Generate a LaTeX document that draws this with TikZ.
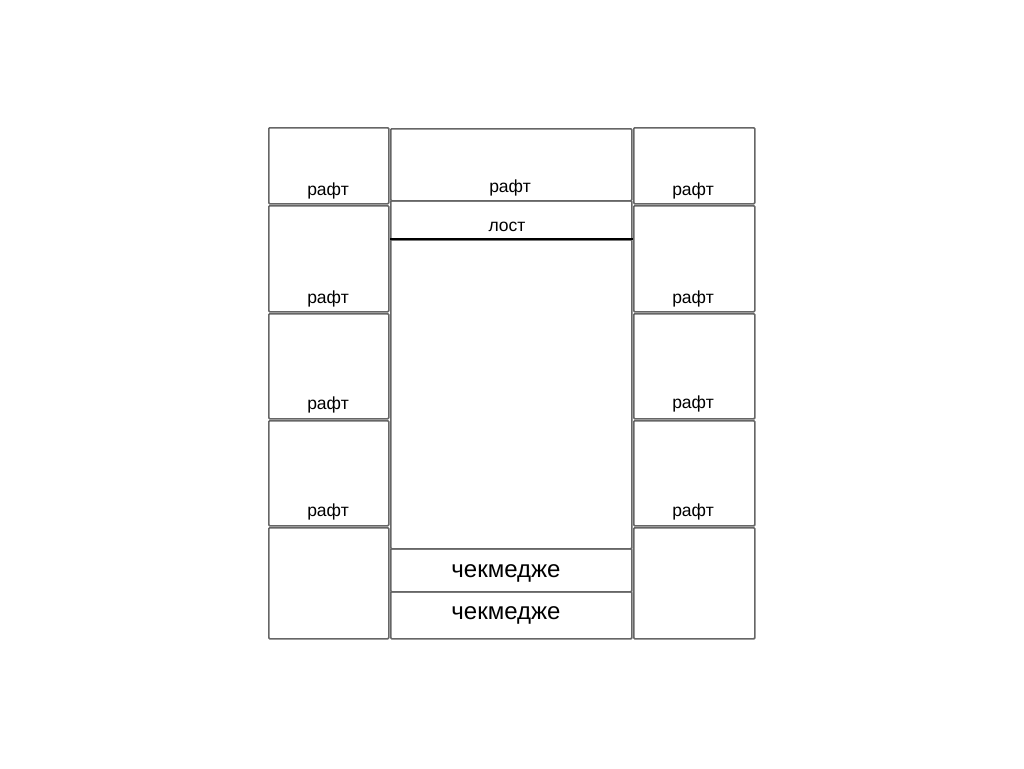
\documentclass[tikz,border=0pt]{standalone}
\usepackage{fontspec}
\setmainfont{Liberation Sans}
\begin{document}
\begin{tikzpicture}[x=1pt,y=-1pt,
  cell/.style={draw=black!60,line width=1.6pt,rounded corners=1pt,inner sep=0pt,anchor=north west},
  lbl/.style={font=\fontsize{17.5}{17.5}\selectfont,anchor=base,inner sep=0pt},
  big/.style={font=\fontsize{24}{24}\selectfont,anchor=base,inner sep=0pt}]
\useasboundingbox (0,0) rectangle (1024,768);
% left column
\node[cell,minimum width=120pt,minimum height=76pt] (l1) at (268,127) {};
\node[cell,minimum width=120pt,minimum height=106pt] (l2) at (268,205) {};
\node[cell,minimum width=120pt,minimum height=105pt] (l3) at (268,313) {};
\node[cell,minimum width=120pt,minimum height=105pt] (l4) at (268,420) {};
\node[cell,minimum width=120pt,minimum height=111pt] (l5) at (268,527) {};
% right column
\node[cell,minimum width=121pt,minimum height=76pt] (r1) at (633,127) {};
\node[cell,minimum width=121pt,minimum height=106pt] (r2) at (633,205) {};
\node[cell,minimum width=121pt,minimum height=105pt] (r3) at (633,313) {};
\node[cell,minimum width=121pt,minimum height=105pt] (r4) at (633,420) {};
\node[cell,minimum width=121pt,minimum height=111pt] (r5) at (633,527) {};
% middle column
\node[cell,minimum width=241pt,minimum height=72pt] (m1) at (390,128) {};
\node[cell,minimum width=241pt,minimum height=39pt] (m2) at (390,200) {};
\node[cell,minimum width=241pt,minimum height=309pt] (m3) at (390,239) {};
\node[cell,minimum width=241pt,minimum height=43pt] (m4) at (390,548) {};
\node[cell,minimum width=241pt,minimum height=47pt] (m5) at (390,591) {};
\draw[line width=2.8pt,black] (m3.north west) -- (m3.north east);
% labels
\node[lbl] (tl1) at (328,195) {рафт};
\node[lbl] (tl2) at (328,303) {рафт};
\node[lbl] (tl3) at (328,409) {рафт};
\node[lbl] (tl4) at (328,516) {рафт};
\node[lbl] (tr1) at (693,195) {рафт};
\node[lbl] (tr2) at (693,303) {рафт};
\node[lbl] (tr3) at (693,408) {рафт};
\node[lbl] (tr4) at (693,516) {рафт};
\node[lbl] (tm1) at (510,192) {рафт};
\node[lbl] (tm2) at (507,231) {лост};
\node[big] (tm4) at (506,577) {чекмедже};
\node[big] (tm5) at (506,619) {чекмедже};
\end{tikzpicture}
\end{document}
